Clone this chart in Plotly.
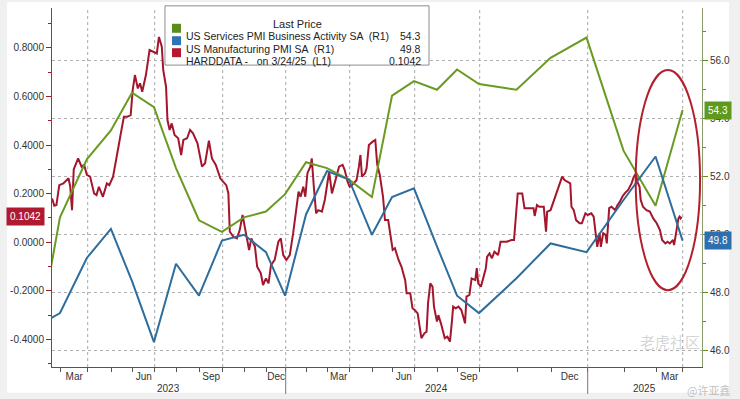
import numpy as np
import pandas as pd
import plotly.graph_objects as go

# ---------------- data ----------------
PMI_DATES = [
    "2023-01-31", "2023-02-28", "2023-03-31", "2023-04-30", "2023-05-31", "2023-06-30",
    "2023-07-31", "2023-08-31", "2023-09-30", "2023-10-31", "2023-11-30", "2023-12-31",
    "2024-01-31", "2024-02-29", "2024-03-31", "2024-04-30", "2024-05-31", "2024-06-30",
    "2024-07-31", "2024-08-31", "2024-09-30", "2024-10-31", "2024-11-30", "2024-12-31",
    "2025-01-31", "2025-02-28", "2025-03-31",
]
SERVICES_PMI = [46.8, 50.6, 52.6, 53.6, 54.9, 54.4, 52.3, 50.5, 50.1, 50.6, 50.8, 51.4,
                52.5, 52.3, 51.9, 51.3, 54.8, 55.3, 55.0, 55.7, 55.2, 55.0, 56.1, 56.8,
                52.9, 51.0, 54.3]
MANUF_PMI = [46.9, 47.3, 49.2, 50.2, 48.4, 46.3, 49.0, 47.9, 49.8, 50.0, 49.4, 47.9,
             50.7, 52.2, 51.9, 50.0, 51.3, 51.6, 49.6, 47.9, 47.3, 48.5, 49.7, 49.4,
             51.2, 52.7, 49.8]

HARD_DATES = [
    "2023-02-17", "2023-02-20", "2023-02-23", "2023-02-27", "2023-03-04", "2023-03-10",
    "2023-03-12", "2023-03-14", "2023-03-16", "2023-03-17", "2023-03-21", "2023-03-25",
    "2023-03-28", "2023-03-31", "2023-04-04", "2023-04-09", "2023-04-12", "2023-04-15",
    "2023-04-20", "2023-04-25", "2023-04-28", "2023-05-03", "2023-05-08", "2023-05-11",
    "2023-05-14", "2023-05-19", "2023-05-24", "2023-05-29", "2023-06-01", "2023-06-04",
    "2023-06-08", "2023-06-11", "2023-06-14", "2023-06-19", "2023-06-24", "2023-06-29",
    "2023-07-04", "2023-07-07", "2023-07-11", "2023-07-13", "2023-07-17", "2023-07-19",
    "2023-07-22", "2023-07-25", "2023-07-29", "2023-08-03", "2023-08-07", "2023-08-10",
    "2023-08-15", "2023-08-19", "2023-08-23", "2023-08-29", "2023-09-04", "2023-09-08",
    "2023-09-13", "2023-09-17", "2023-09-22", "2023-09-28", "2023-10-03", "2023-10-06",
    "2023-10-09", "2023-10-11", "2023-10-16", "2023-10-21", "2023-10-25", "2023-10-29",
    "2023-11-01", "2023-11-04", "2023-11-07", "2023-11-10", "2023-11-15", "2023-11-18",
    "2023-11-23", "2023-11-26", "2023-11-30", "2023-12-04", "2023-12-08", "2023-12-14",
    "2023-12-20", "2023-12-24", "2023-12-28", "2024-01-02", "2024-01-07", "2024-01-12",
    "2024-01-16", "2024-01-20", "2024-01-23", "2024-01-27", "2024-01-30", "2024-02-02",
    "2024-02-06", "2024-02-08", "2024-02-11", "2024-02-14", "2024-02-17", "2024-02-22",
    "2024-02-26", "2024-02-29", "2024-03-03", "2024-03-07", "2024-03-10", "2024-03-14",
    "2024-03-17", "2024-03-22", "2024-03-25", "2024-03-29", "2024-04-01", "2024-04-06",
    "2024-04-10", "2024-04-13", "2024-04-15", "2024-04-17", "2024-04-21", "2024-04-23",
    "2024-04-26", "2024-05-01", "2024-05-05", "2024-05-08", "2024-05-12", "2024-05-17",
    "2024-05-20", "2024-05-25", "2024-05-29", "2024-06-01", "2024-06-04", "2024-06-09",
    "2024-06-13", "2024-06-18", "2024-06-20", "2024-06-25", "2024-06-28", "2024-07-01",
    "2024-07-05", "2024-07-08", "2024-07-10", "2024-07-14", "2024-07-17", "2024-07-19",
    "2024-07-22", "2024-07-25", "2024-07-27", "2024-07-31", "2024-08-02", "2024-08-06",
    "2024-08-09", "2024-08-12", "2024-08-16", "2024-08-20", "2024-08-23", "2024-08-25",
    "2024-08-29", "2024-09-02", "2024-09-06", "2024-09-11", "2024-09-13", "2024-09-17",
    "2024-09-20", "2024-09-25", "2024-09-27", "2024-09-29", "2024-10-02", "2024-10-04",
    "2024-10-06", "2024-10-07", "2024-10-09", "2024-10-11", "2024-10-13", "2024-10-16",
    "2024-10-18", "2024-10-23", "2024-10-27", "2024-10-29", "2024-10-31", "2024-11-01",
    "2024-11-05", "2024-11-07", "2024-11-10", "2024-11-15", "2024-11-16", "2024-11-18",
    "2024-11-20", "2024-11-24", "2024-11-26", "2024-11-27", "2024-11-30", "2024-12-04",
    "2024-12-07", "2024-12-10", "2024-12-12", "2024-12-14", "2024-12-17", "2024-12-18",
    "2024-12-20", "2024-12-22", "2024-12-25", "2024-12-27", "2024-12-30", "2025-01-01",
    "2025-01-04", "2025-01-06", "2025-01-08", "2025-01-09", "2025-01-11", "2025-01-12",
    "2025-01-14", "2025-01-16", "2025-01-17", "2025-01-19", "2025-01-21", "2025-01-24",
    "2025-01-26", "2025-01-28", "2025-01-30", "2025-02-01", "2025-02-04", "2025-02-07",
    "2025-02-09", "2025-02-11", "2025-02-12", "2025-02-14", "2025-02-15", "2025-02-17",
    "2025-02-20", "2025-02-23", "2025-02-26", "2025-03-01", "2025-03-04", "2025-03-06",
    "2025-03-09", "2025-03-11", "2025-03-13", "2025-03-16", "2025-03-17", "2025-03-19",
    "2025-03-21", "2025-03-22", "2025-03-23", "2025-03-24",
]
HARD_VALUES = [
    0.180, 0.150, 0.153, 0.235, 0.242, 0.263,
    0.228, 0.132, 0.300, 0.311, 0.345, 0.311,
    0.318, 0.277, 0.270, 0.201, 0.194, 0.228,
    0.187, 0.242, 0.235, 0.270, 0.338, 0.393,
    0.441, 0.516, 0.516, 0.523, 0.626, 0.688,
    0.633, 0.654, 0.619, 0.688, 0.791, 0.784,
    0.777, 0.845, 0.805, 0.709, 0.640, 0.503,
    0.462, 0.489, 0.441, 0.428, 0.359, 0.421,
    0.428, 0.462, 0.448, 0.407, 0.311, 0.325,
    0.418, 0.345, 0.318, 0.262, 0.242, 0.235,
    0.201, 0.043, 0.023, 0.016, 0.050, 0.112,
    0.064, 0.009, -0.032, 0.016, -0.019, -0.101,
    -0.128, -0.176, -0.149, -0.169, -0.094, -0.073,
    0.002, 0.016, -0.053, -0.073, -0.053, 0.037,
    0.119, 0.208, 0.187, 0.228, 0.187, 0.284,
    0.311, 0.345, 0.222, 0.119, 0.132, 0.126,
    0.174, 0.228, 0.290, 0.201, 0.235, 0.270,
    0.311, 0.318, 0.297, 0.249, 0.228, 0.242,
    0.256, 0.311, 0.359, 0.270, 0.284, 0.304,
    0.400, 0.414, 0.421, 0.320, 0.277, 0.187,
    0.091, 0.091, 0.023, -0.032, -0.025, -0.073,
    -0.101, -0.156, -0.210, -0.210, -0.272, -0.279,
    -0.293, -0.361, -0.395, -0.375, -0.368, -0.251,
    -0.169, -0.183, -0.265, -0.327, -0.300, -0.334,
    -0.368, -0.395, -0.389, -0.409, -0.327, -0.265,
    -0.272, -0.265, -0.279, -0.334, -0.224, -0.217,
    -0.149, -0.156, -0.107, -0.169, -0.183, -0.142,
    -0.107, -0.060, -0.046, -0.066, -0.039, -0.053,
    0.002, 0.002, 0.009, 0.009, 0.167, 0.201,
    0.201, 0.140, 0.140, 0.140, 0.108, 0.153,
    0.146, 0.146, 0.043, 0.126, 0.132, 0.187,
    0.228, 0.270, 0.256, 0.249, 0.242, 0.146,
    0.132, 0.091, 0.078, 0.078, 0.119, 0.112,
    0.119, 0.105, 0.023, -0.019, 0.037, -0.019,
    0.037, 0.030, -0.005, 0.140, 0.146, 0.132,
    0.153, 0.167, 0.187, 0.201, 0.215, 0.242,
    0.270, 0.284, 0.249, 0.228, 0.174, 0.146,
    0.132, 0.126, 0.098, 0.078, 0.050, 0.009,
    -0.005, 0.002, -0.005, 0.009, -0.012, 0.050,
    0.098, 0.105, 0.098, 0.1042,
]

SERIES_NAMES = ["US Services PMI Business Activity SA  (R1)",
                "US Manufacturing PMI SA  (R1)",
                "HARDDATA -   on 3/24/25  (L1)"]
LAST_LABELS = ["54.3", "49.8", "0.1042"]

LEFT_TICKS = [-0.4, -0.2, 0.0, 0.2, 0.4, 0.6, 0.8]
LEFT_TICK_TEXT = ["-0.4000", "-0.2000", "0.0000", "0.2000", "0.4000", "0.6000", "0.8000"]
RIGHT_TICKS = [46, 48, 50, 52, 54, 56]
RIGHT_TICK_TEXT = ["46.0", "48.0", "50.0", "52.0", "54.0", "56.0"]

MONTH_LABEL_STARTS = ["2023-03-01", "2023-06-01", "2023-09-01", "2023-12-01", "2024-03-01",
                      "2024-06-01", "2024-09-01", "2024-12-01", "2025-03-01"]
MONTH_LABEL_ENDS = ["2023-04-01", "2023-07-01", "2023-10-01", "2024-01-01", "2024-04-01",
                    "2024-07-01", "2024-10-01", "2025-01-01", "2025-04-01"]
MONTH_LABEL_TEXT = ["Mar", "Jun", "Sep", "Dec", "Mar", "Jun", "Sep", "Dec", "Mar"]
QUARTER_STARTS = ["2023-04-01", "2023-07-01", "2023-10-01", "2024-01-01", "2024-04-01",
                  "2024-07-01", "2024-10-01", "2025-01-01", "2025-04-01"]
YEAR_STARTS = ["2024-01-01", "2025-01-01"]
YEAR_TEXT = ["2023", "2024", "2025"]

# Bloomberg-style observation axis: cumulative observation count at each anchor date
AXIS_ANCHOR_DATES = ["2023-01-01", "2023-02-01", "2023-03-01", "2023-04-01", "2023-05-01",
                     "2023-06-01", "2023-07-01", "2023-08-01", "2023-09-01", "2023-10-01",
                     "2023-11-01", "2023-12-01", "2024-01-01", "2024-02-01", "2024-03-01",
                     "2024-04-01", "2024-05-01", "2024-06-01", "2024-07-01", "2024-08-01",
                     "2024-09-01", "2024-10-01", "2024-11-01", "2024-12-01", "2025-01-01",
                     "2025-02-01", "2025-03-01", "2025-03-24", "2025-04-01", "2025-05-01"]
AXIS_ANCHOR_OBS = [-41, -20, 0, 27, 51, 72, 94, 116, 139, 162, 184, 206, 225, 246, 267,
                   289, 312, 332, 354, 377, 397, 419, 457, 491, 527, 564, 596, 621, 622, 650]
X_RANGE = [-8.7, 641.3]
LEFT_RANGE = [-0.5136, 0.964]
RIGHT_RANGE = [45.44, 57.82]

GREEN = "#6a9a22"
BLUE = "#2e6d9c"
RED = "#a3162d"


def ordinals(dates):
    return np.array([pd.Timestamp(d).toordinal() for d in dates], dtype=float)


ANCHOR_ORD = ordinals(AXIS_ANCHOR_DATES)


def obs_pos(dates):
    return np.interp(ordinals(dates), ANCHOR_ORD, np.array(AXIS_ANCHOR_OBS, dtype=float))


def to_paper_x(pos):
    return (np.asarray(pos) - X_RANGE[0]) / (X_RANGE[1] - X_RANGE[0])


# ---------------- figure ----------------
fig = go.Figure()
fig.add_trace(go.Scatter(x=obs_pos(PMI_DATES), y=SERVICES_PMI, yaxis="y2", mode="lines",
                         line=dict(color=GREEN, width=2), name=SERIES_NAMES[0]))
fig.add_trace(go.Scatter(x=obs_pos(PMI_DATES), y=MANUF_PMI, yaxis="y2", mode="lines",
                         line=dict(color=BLUE, width=2), name=SERIES_NAMES[1]))
fig.add_trace(go.Scatter(x=obs_pos(HARD_DATES), y=HARD_VALUES, yaxis="y", mode="lines",
                         line=dict(color=RED, width=2), name=SERIES_NAMES[2]))

month_starts = [d for d in AXIS_ANCHOR_DATES if d.endswith("-01")]
label_centers = (obs_pos(MONTH_LABEL_STARTS) + obs_pos(MONTH_LABEL_ENDS)) / 2

shapes = []
annotations = []

# white panel behind the chart
shapes.append(dict(type="rect", xref="paper", yref="paper", x0=-0.069, x1=1.0415,
                   y0=-0.072, y1=1.017, fillcolor="white", line=dict(width=0), layer="below"))

# quarter dotted gridlines
for q in obs_pos(QUARTER_STARTS):
    shapes.append(dict(type="line", xref="x", yref="paper", x0=q, x1=q, y0=0, y1=1,
                       line=dict(color="#a8a8a8", width=1, dash="dot"), layer="below"))

# year separators below the axis
for yx in to_paper_x(obs_pos(YEAR_STARTS)):
    shapes.append(dict(type="line", xref="paper", yref="paper", x0=yx, x1=yx, y0=0, y1=-0.075,
                       line=dict(color="#777777", width=1)))

# year labels centered on the visible span of each year
bounds = [X_RANGE[0]] + list(obs_pos(YEAR_STARTS)) + [X_RANGE[1]]
for i, txt in enumerate(YEAR_TEXT):
    c = (bounds[i] + bounds[i + 1]) / 2
    annotations.append(dict(x=c, xref="x", y=0, yref="paper", yanchor="top", yshift=-14,
                            text=txt, showarrow=False,
                            font=dict(size=10, color="#333333")))

# legend box
box_x0, box_x1, box_y0, box_y1 = 0.1738, 0.58, 0.841, 1.006
shapes.append(dict(type="rect", xref="paper", yref="paper", x0=box_x0, x1=box_x1,
                   y0=box_y0, y1=box_y1, fillcolor="white", line=dict(color="#8c8c8c", width=1)))
annotations.append(dict(x=0.377, y=0.978, xref="paper", yref="paper", text="Last Price",
                        showarrow=False, font=dict(size=11, color="#222222")))
row_y = [0.9435, 0.9089, 0.8755]
sq_colors = ["#5b8c1c", "#2f75b6", "#b4172f"]
for i in range(3):
    shapes.append(dict(type="rect", xref="paper", yref="paper", x0=0.1846, x1=0.1985,
                       y0=row_y[i] - 0.0125, y1=row_y[i] + 0.0125,
                       fillcolor=sq_colors[i], line=dict(width=0)))
    annotations.append(dict(x=0.2031, y=row_y[i], xref="paper", yref="paper", xanchor="left",
                            text=SERIES_NAMES[i], showarrow=False,
                            font=dict(size=10.5, color="#222222")))
    annotations.append(dict(x=0.5708, y=row_y[i], xref="paper", yref="paper", xanchor="right",
                            text=LAST_LABELS[i], showarrow=False,
                            font=dict(size=10.5, color="#222222")))

# last-value badges
annotations.append(dict(x=-0.011, xref="paper", y=HARD_VALUES[-1], yref="y", xanchor="right",
                        text=LAST_LABELS[2], showarrow=False, bgcolor="#b01a30", borderpad=3,
                        font=dict(size=10, color="white")))
annotations.append(dict(x=1.003, xref="paper", y=SERVICES_PMI[-1], yref="y2", xanchor="left",
                        text=LAST_LABELS[0], showarrow=False, bgcolor="#5f9a1c", borderpad=3,
                        font=dict(size=10, color="white")))
annotations.append(dict(x=1.003, xref="paper", y=MANUF_PMI[-1], yref="y2", xanchor="left",
                        text=LAST_LABELS[1], showarrow=False, bgcolor="#2f6fae", borderpad=3,
                        font=dict(size=10, color="white")))

# hand-drawn highlight ellipse
shapes.append(dict(type="circle", xref="paper", yref="paper", x0=0.898, x1=0.997,
                   y0=0.214, y1=0.827, line=dict(color="#b3202c", width=2)))

# watermarks
annotations.append(dict(x=1.0, y=0.036, xref="paper", yref="paper", text="老虎社区",
                        showarrow=False,
                        font=dict(size=15, color="rgba(160,160,160,0.45)",
                                  family="Noto Sans CJK SC")))
annotations.append(dict(x=0.974, y=-0.035, xref="paper", yref="paper", text="@许亚鑫",
                        xanchor="left", yanchor="top", showarrow=False,
                        font=dict(size=11, color="rgba(150,150,150,0.6)",
                                  family="Noto Sans CJK SC")))

fig.update_layout(
    width=740, height=399,
    margin=dict(l=52, r=38, t=8, b=32),
    paper_bgcolor="#f0f0f0", plot_bgcolor="white",
    showlegend=False,
    font=dict(family="Liberation Sans, Arial, sans-serif", size=10, color="#333333"),
    xaxis=dict(range=X_RANGE, tickmode="array", tickvals=label_centers,
               ticktext=MONTH_LABEL_TEXT, ticks="", showgrid=False, zeroline=False,
               showline=True, linecolor="#555555", linewidth=1,
               tickfont=dict(size=10, color="#333333"),
               minor=dict(tickmode="array", tickvals=obs_pos(month_starts), ticks="outside",
                          ticklen=4, tickcolor="#555555", showgrid=False)),
    yaxis=dict(range=LEFT_RANGE, tickmode="array", tickvals=LEFT_TICKS,
               ticktext=LEFT_TICK_TEXT, ticks="outside", ticklen=5, tickcolor="#a01c2c",
               showline=True, linecolor="#555555", showgrid=False, zeroline=False,
               tickfont=dict(size=10, color="#333333"),
               minor=dict(tick0=0, dtick=0.1, ticks="outside", ticklen=3,
                          tickcolor="#a01c2c", showgrid=False)),
    yaxis2=dict(range=RIGHT_RANGE, overlaying="y", side="right", tickmode="array",
                tickvals=RIGHT_TICKS, ticktext=RIGHT_TICK_TEXT, ticks="outside", ticklen=5,
                tickcolor="#5f8f1f", showline=True, linecolor="#8a9a6a",
                showgrid=True, gridcolor="#b0b0b0", griddash="dot", gridwidth=1,
                zeroline=False, tickfont=dict(size=10, color="#333333"),
                minor=dict(tick0=0, dtick=1, ticks="outside", ticklen=3,
                           tickcolor="#5f8f1f", showgrid=False)),
    shapes=shapes,
    annotations=annotations,
)

fig.write_html("out.html", config={"displayModeBar": False},
               post_script="document.body.style.margin='0';")
